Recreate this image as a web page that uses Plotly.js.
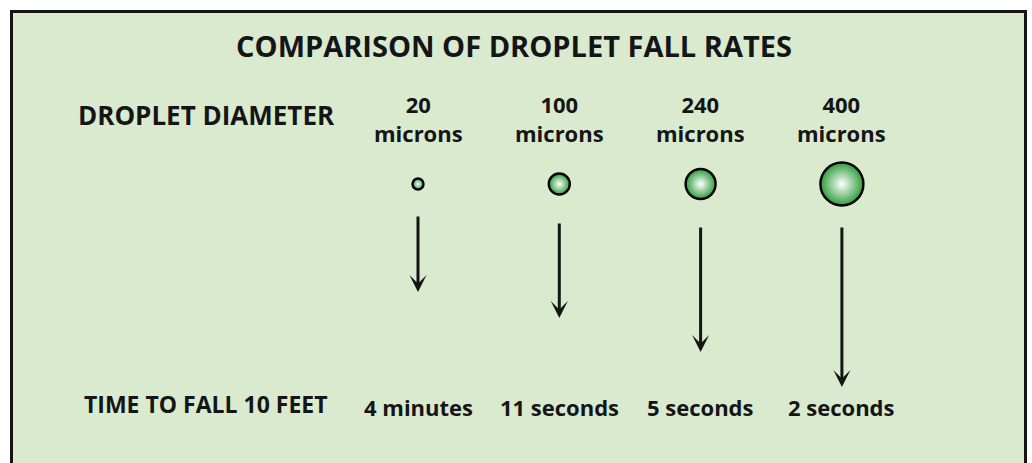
<!DOCTYPE html>
<html>
<head>
<meta charset="utf-8">
<script src="https://cdn.plot.ly/plotly-3.0.1.min.js"></script>
<style>html,body{margin:0;padding:0;background:#fff;}#chart{width:1032px;height:463px;}</style>
</head>
<body>
<div id="chart"></div>
<script>
// ---- data ----
const chartTitle = 'COMPARISON OF DROPLET FALL RATES';
const rowLabels = ['DROPLET DIAMETER', 'TIME TO FALL 10 FEET'];
const diameters = [20, 100, 240, 400];            // microns
const diameterUnit = 'microns';
const fallTimes = ['4 minutes', '11 seconds', '5 seconds', '2 seconds'];
const fallStart = [215, 222, 226, 226];           // illustrated fall: arrow start depth
const fallEnd = [292, 318, 352, 387];             // illustrated fall: arrow end depth

// ---- style ----
const W = 1032, H = 463;
const bg = '#d9eacf';
const ink = '#151515';
const font = 'Open Sans, Noto Sans, sans-serif';
const dropSizes = [11, 21, 30, 43];
const colStep = 141.3, col0 = 418;                // px of column 0 and spacing
const labelCol = -1.5;
const dropRow = 184, headRow = 118, timeRow = 407;

const idx = diameters.map((d, i) => i);

const traces = [{
  type: 'scatter', mode: 'markers',
  x: idx, y: idx.map(() => dropRow),
  marker: {
    size: dropSizes, color: '#2f9c3c', opacity: 1,
    gradient: {type: 'radial', color: '#ffffff'},
    line: {color: '#000000', width: 2.4}
  },
  hoverinfo: 'skip', showlegend: false
}];

const ann = [];
ann.push({x: labelCol, y: headRow - 3, text: '<b>' + rowLabels[0] + '</b>', xref: 'x', yref: 'y',
  showarrow: false, xanchor: 'center', yanchor: 'middle', font: {size: 26, color: ink, family: font}});
ann.push({x: labelCol, y: timeRow - 3, text: '<b>' + rowLabels[1] + '</b>', xref: 'x', yref: 'y',
  showarrow: false, xanchor: 'center', yanchor: 'middle', font: {size: 23, color: ink, family: font}});
diameters.forEach((d, i) => {
  ann.push({x: i, y: headRow, text: '<b>' + d + '<br>' + diameterUnit + '</b>', xref: 'x', yref: 'y',
    showarrow: false, xanchor: 'center', yanchor: 'middle', font: {size: 22, color: ink, family: font}});
  ann.push({x: i, y: timeRow, text: '<b>' + fallTimes[i] + '</b>', xref: 'x', yref: 'y',
    showarrow: false, xanchor: 'center', yanchor: 'middle', font: {size: 22, color: ink, family: font}});
  ann.push({x: i, y: fallEnd[i], ax: i, ay: fallStart[i], axref: 'x', ayref: 'y', xref: 'x', yref: 'y',
    text: '', showarrow: true, arrowhead: 3, arrowsize: 0.95, arrowwidth: 3, arrowcolor: ink, standoff: 0, startstandoff: 0});
});

const layout = {
  width: W, height: H,
  margin: {l: 0, r: 0, t: 0, b: 0},
  paper_bgcolor: '#ffffff', plot_bgcolor: 'rgba(0,0,0,0)',
  title: {text: '<b>' + chartTitle + '</b>', x: 514 / W, xanchor: 'center', y: 1 - 47 / H, yanchor: 'middle',
    font: {size: 29, color: ink, family: font}},
  xaxis: {range: [-col0 / colStep, (W - col0) / colStep], visible: false, fixedrange: true},
  yaxis: {range: [H, 0], visible: false, fixedrange: true},
  shapes: [{type: 'rect', xref: 'paper', yref: 'paper', x0: 11.5 / W, x1: 1025.5 / W, y0: -0.2, y1: 1 - 11.5 / H,
    line: {color: ink, width: 3}, fillcolor: bg, layer: 'below'}],
  annotations: ann
};

Plotly.newPlot('chart', traces, layout, {staticPlot: true, displayModeBar: false});
</script>
</body>
</html>
